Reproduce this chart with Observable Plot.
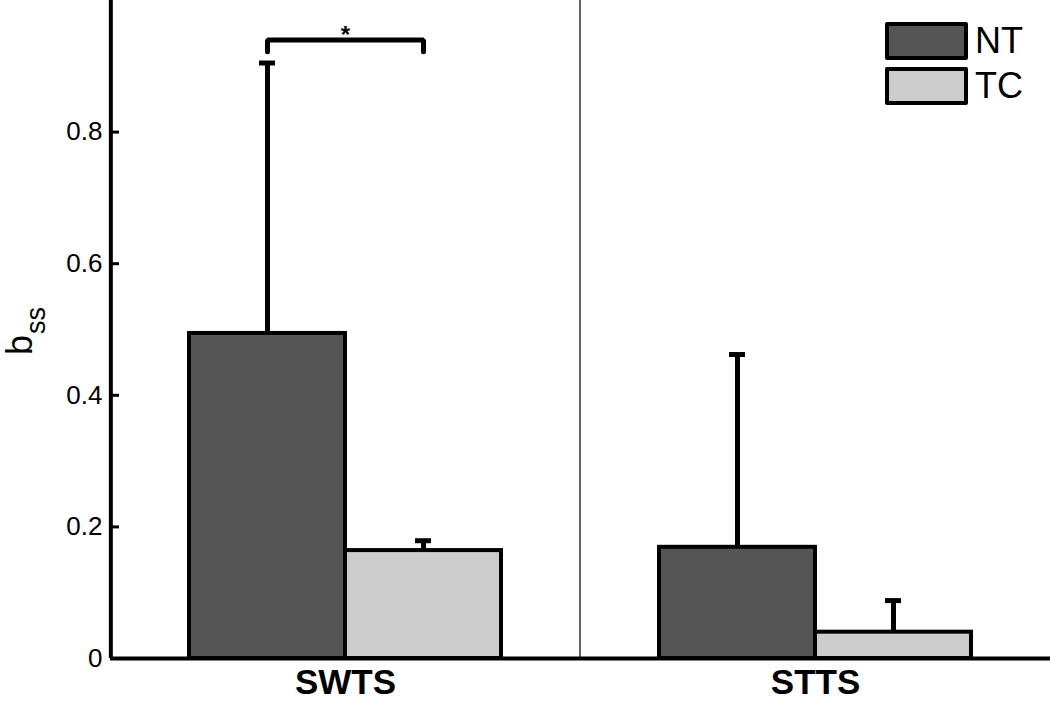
<!DOCTYPE html>
<html>
<head>
<meta charset="utf-8">
<script src="https://cdn.jsdelivr.net/npm/d3@7"></script>
<script src="https://cdn.jsdelivr.net/npm/@observablehq/plot@0.6"></script>
<style>
  html, body { margin: 0; padding: 0; background: #fff; overflow: hidden; }
  #wrap { position: relative; width: 1050px; height: 702px; overflow: hidden; }
  #ylab { position: absolute; left: 0; top: 0; font-family: "Liberation Sans", Arial, sans-serif; color: #000;
          transform-origin: 0 0; white-space: nowrap; line-height: 1.1; }
  #ylab .b { font-size: 36px; }
  #ylab .ss { font-size: 27px; position: relative; top: 13px; margin-left: 1px; }
  #legend { position: absolute; left: 885px; top: 22px; font-family: "Liberation Sans", Arial, sans-serif; }
  .row { display: flex; align-items: center; height: 38px; margin-bottom: 7px; }
  .sw { width: 75px; height: 30px; border: 4px solid #000; border-radius: 2px; }
  .lt { font-size: 36px; margin-left: 7px; line-height: 38px; color: #000; }
</style>
</head>
<body>
<div id="wrap">
  <div id="chart"></div>
  <div id="ylab"><span class="b">b</span><span class="ss">ss</span></div>
  <div id="legend"></div>
</div>
<script>
// ---- data ----
const groups = ["SWTS", "STTS"];
const series = ["NT", "TC"];
const colors = ["#555555", "#cccccc"];
const meanSWTS = [0.494, 0.164];
const meanSTTS = [0.169, 0.040];
const upperSWTS = [0.905, 0.179];
const upperSTTS = [0.462, 0.088];
const yTicks = [0, 0.2, 0.4, 0.6, 0.8];
const yTickLabels = ["0", "0.2", "0.4", "0.6", "0.8"];
const yDomain = [0, 1];
const sigX = ["NT", "NT", "TC", "TC"];
const sigY = [0.922, 0.940, 0.940, 0.922];
const sigLabel = "*";
const sigLabelY = 0.9475;

// ---- layout constants ----
const W = 1050, H = 702, ML = 110, MB = 44;
const panelWidth = (W - ML) / groups.length;
const bandStep = panelWidth / (series.length + 1); // paddingOuter 0.5 on each side
const tickLen = 9;

// ---- build rows ----
const means = [meanSWTS, meanSTTS];
const uppers = [upperSWTS, upperSTTS];
const rows = [];
groups.forEach((g, gi) => series.forEach((s, si) => {
  rows.push({group: g, series: s, mean: means[gi][si], upper: uppers[gi][si]});
}));
const bracket = sigX.map((x, i) => ({group: groups[0], series: x, y: sigY[i]}));
const axisLine = [{group: groups[0], series: series[0], y1: yDomain[0], y2: yDomain[1]}];
const tickRows = yTicks.map(v => ({group: groups[0], series: series[0], v}));
const tickLabel = d => yTickLabels[yTicks.indexOf(d)];

const chart = Plot.plot({
  width: W,
  height: H,
  marginLeft: ML,
  marginRight: 0,
  marginTop: 0,
  marginBottom: MB,
  style: {fontFamily: "'Liberation Sans', Arial, sans-serif", background: "#fff", color: "#000"},
  fx: {domain: groups, padding: 0, label: null},
  x: {domain: series, paddingInner: 0, paddingOuter: 0.5, axis: null},
  y: {domain: yDomain, label: null},
  color: {domain: series, range: colors},
  marks: [
    // thin separator between the two groups (left edge of the second panel)
    Plot.rect([groups[1]], {fx: d => d, fill: "none", stroke: "#333", strokeWidth: 1.5, insetTop: -6, insetRight: -6}),
    Plot.barY(rows, {fx: "group", x: "series", y: "mean", fill: "series", stroke: "#000", strokeWidth: 4}),
    Plot.ruleX(rows, {fx: "group", x: "series", y1: "mean", y2: "upper", stroke: "#000", strokeWidth: 5}),
    Plot.tickY(rows, {fx: "group", x: "series", y: "upper", stroke: "#000", strokeWidth: 5, insetLeft: 70, insetRight: 70}),
    Plot.line(bracket, {fx: "group", x: "series", y: "y", stroke: "#000", strokeWidth: 5, strokeLinejoin: "miter"}),
    Plot.text([{group: groups[0]}], {fx: "group", y: () => sigLabelY, text: () => sigLabel, fontSize: 24, fontWeight: "bold", lineAnchor: "middle"}),
    // y-axis line: at the left edge of the first panel (one band step left of the first band's centre)
    Plot.ruleX(axisLine, {fx: "group", x: "series", y1: "y1", y2: "y2", stroke: "#000", strokeWidth: 4, dx: -bandStep}),
    // inward y ticks: start of the first band, shifted back to the panel's left edge
    Plot.tickY(tickRows, {fx: "group", x: "series", y: "v", stroke: "#000", strokeWidth: 3,
                          insetLeft: 0, insetRight: bandStep - tickLen, dx: -bandStep / 2}),
    Plot.ruleY([0], {stroke: "#000", strokeWidth: 4}),
    // y tick labels
    Plot.axisY({ticks: yTicks, tickSize: 0, tickPadding: 8, fontSize: 26, tickFormat: tickLabel, label: null}),
    Plot.axisFx({anchor: "bottom", tickSize: 0, tickPadding: 11, fontSize: 35, fontWeight: "bold", label: null})
  ]
});
document.getElementById("chart").appendChild(chart);

// y label (rotated, with subscript)
document.getElementById("ylab").style.transform = "translate(0px, 355px) rotate(-90deg)";

// legend
const leg = document.getElementById("legend");
series.forEach((s, i) => {
  const r = document.createElement("div");
  r.className = "row";
  const sw = document.createElement("div");
  sw.className = "sw";
  sw.style.background = colors[i];
  const t = document.createElement("span");
  t.className = "lt";
  t.textContent = s;
  r.appendChild(sw); r.appendChild(t);
  leg.appendChild(r);
});
</script>
</body>
</html>
